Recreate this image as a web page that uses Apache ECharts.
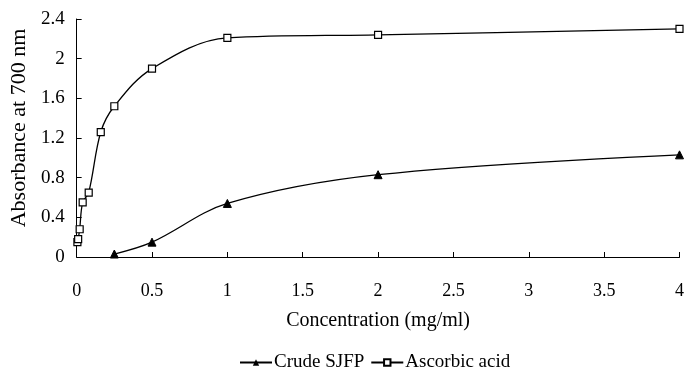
<!DOCTYPE html>
<html><head><meta charset="utf-8">
<script src="https://cdn.jsdelivr.net/npm/echarts@6/dist/echarts.min.js"></script>
<style>html,body{margin:0;padding:0;background:#fff}#c{width:687px;height:377px}</style>
</head><body><div id="c"></div>
<script>
const crudeX = [0.25, 0.5, 1, 2, 4];
const crudeY = [0.03, 0.15, 0.54, 0.83, 1.03];
const ascX = [0.005, 0.01, 0.02, 0.04, 0.08, 0.16, 0.25, 0.5, 1, 2, 4];
const ascY = [0.15, 0.18, 0.28, 0.55, 0.65, 1.26, 1.52, 1.90, 2.21, 2.24, 2.30];
const xTicks = [0, 0.5, 1, 1.5, 2, 2.5, 3, 3.5, 4];
const yTicks = [0, 0.4, 0.8, 1.2, 1.6, 2, 2.4];
const FONT = 'Liberation Serif';
const chart = echarts.init(document.getElementById('c'));
chart.setOption({
  animation: false,
  textStyle: {fontFamily: FONT, color: '#000'},
  grid: {left: 74, right: 6, top: 19, bottom: 120},
  legend: {
    bottom: 0, left: 234, itemWidth: 32, itemHeight: 8, itemGap: 6,
    textStyle: {fontFamily: FONT, fontSize: 19, color: '#000', padding: [0, 0, 0, -3]},
    data: ['Crude SJFP', 'Ascorbic acid']
  },
  xAxis: {
    type: 'value', min: 0, max: 4, interval: 0.5,
    name: 'Concentration (mg/ml)', nameLocation: 'middle', nameGap: 54,
    nameTextStyle: {fontFamily: FONT, fontSize: 20, color: '#000'},
    axisLine: {lineStyle: {color: '#000'}},
    axisTick: {inside: true, length: 5, lineStyle: {color: '#000'}},
    axisLabel: {margin: 25, fontFamily: FONT, fontSize: 18, color: '#000',
      formatter: v => xTicks.includes(v) ? String(v) : ''},
    splitLine: {show: false}
  },
  yAxis: {
    type: 'value', min: 0, max: 2.4, interval: 0.4,
    name: 'Absorbance at 700 nm', nameLocation: 'middle', nameGap: 38,
    nameTextStyle: {fontFamily: FONT, fontSize: 22, color: '#000', padding: [0, 0, 0, 20]},
    axisLine: {show: true, lineStyle: {color: '#000'}},
    axisTick: {show: true, inside: true, length: 5, lineStyle: {color: '#000'}},
    axisLabel: {margin: 12, fontFamily: FONT, fontSize: 19, color: '#000',
      formatter: v => { const t = yTicks.find(k => Math.abs(k - v) < 1e-6); return t === undefined ? '' : String(t); }},
    splitLine: {show: false}
  },
  series: [
    {
      name: 'Crude SJFP', type: 'line', smooth: 0.35,
      data: crudeX.map((x, i) => [x, crudeY[i]]),
      symbol: 'triangle', symbolSize: 8,
      lineStyle: {color: '#000', width: 1.3},
      itemStyle: {color: '#000', borderColor: '#000'}
    },
    {
      name: 'Ascorbic acid', type: 'line', smooth: 0.35,
      data: ascX.map((x, i) => [x, ascY[i]]),
      symbol: 'rect', symbolSize: 7, showAllSymbol: true,
      lineStyle: {color: '#000', width: 1.3},
      itemStyle: {color: '#fff', borderColor: '#000', borderWidth: 1.2}
    }
  ]
});
</script></body></html>
